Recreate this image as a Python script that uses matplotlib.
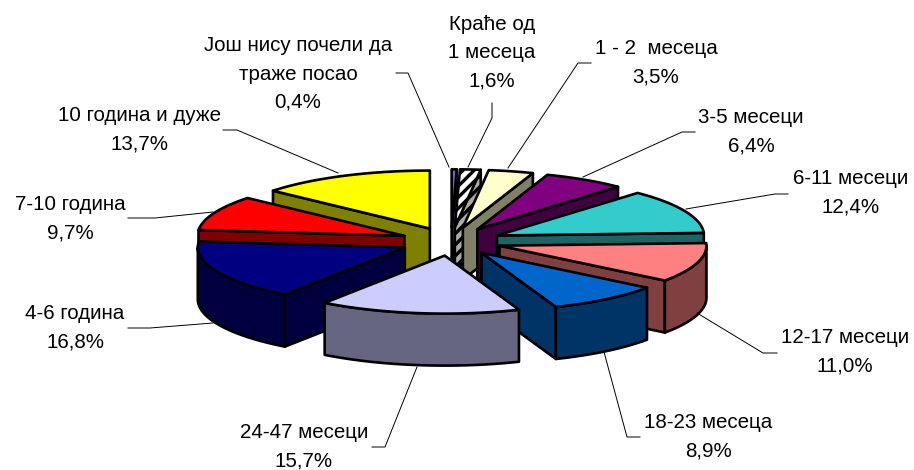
import numpy as np
from matplotlib import pyplot as plt
from matplotlib.patches import Polygon

plt.rcParams["font.family"] = ["Liberation Sans", "DejaVu Sans"]
plt.rcParams["hatch.linewidth"] = 2.4

# clockwise from 12 o'clock
names = [
    "Још нису почели да\nтраже посао",
    "Краће од\n1 месеца",
    "1 - 2  месеца",
    "3-5 месеци",
    "6-11 месеци",
    "12-17 месеци",
    "18-23 месеца",
    "24-47 месеци",
    "4-6 година",
    "7-10 година",
    "10 година и дуже",
]
shares = [0.4, 1.6, 3.5, 6.4, 12.4, 11.0, 8.9, 15.7, 16.8, 9.7, 13.7]
share_labels = ["0,4%", "1,6%", "3,5%", "6,4%", "12,4%", "11,0%", "8,9%", "15,7%", "16,8%", "9,7%", "13,7%"]

top_colors = ["#6666CC", "#FFFFFF", "#FFFFCC", "#800080", "#33CCCC", "#FF8080",
              "#0066CC", "#CCCCFF", "#000080", "#FF0000", "#FFFF00"]
side_colors = ["#333366", "#AAAAAA", "#808066", "#400040", "#1A6666", "#804040",
               "#003366", "#666680", "#000040", "#800000", "#808000"]

# label centre and leader polyline, in pixels
label_xy = [(298, 74), (492, 53), (656, 63), (751, 132), (851, 193), (845, 352),
            (708, 437), (304, 447), (75, 328), (70, 219), (140, 130)]
leaders = [
    [(396, 73), (408, 73), (449, 167)],
    [(492, 103), (492, 118), (468, 167)],
    [(591, 63), (578, 63), (508, 168)],
    [(695, 132), (682, 132), (583, 177)],
    [(788, 194), (775, 194), (686, 209)],
    [(777, 353), (763, 353), (697, 313)],
    [(640, 437), (627, 437), (604, 352)],
    [(372, 447), (385, 447), (417, 367)],
    [(128, 328), (150, 328), (213, 323)],
    [(128, 218), (155, 218), (213, 212)],
    [(223, 130), (237, 130), (338, 173)],
]

cx, cy = 451, 241.5
rx, ry = 207, 58
depth = 52
explode = 0.245

fig = plt.figure(figsize=(9.14, 4.70), dpi=100)
ax = fig.add_axes([0, 0, 1, 1])
ax.set_xlim(0, 914)
ax.set_ylim(470, 0)
ax.axis("off")

edges = np.cumsum([0] + shares) / sum(shares) * 2 * np.pi
mids = (edges[:-1] + edges[1:]) / 2


def wall(pts, color, hatched):
    poly = np.vstack([pts, pts[::-1] + [0, depth]])
    ax.add_patch(Polygon(poly, facecolor=color, edgecolor="black", lw=1.9, joinstyle="round",
                         hatch="///" if hatched else None))


for i in sorted(range(len(shares)), key=lambda k: -np.cos(mids[k])):
    hatched = i == 1
    ox = cx + explode * rx * np.sin(mids[i])
    oy = cy - explode * ry * np.cos(mids[i])
    t = np.linspace(edges[i], edges[i + 1], 60)
    arc = np.column_stack([ox + rx * np.sin(t), oy - ry * np.cos(t)])
    apex = np.array([[ox, oy]])

    # only the faces turned towards the viewer
    for pts in (np.vstack([apex, arc[:1]]), np.vstack([arc[-1:], apex])):
        if pts[1, 0] < pts[0, 0]:
            wall(pts, side_colors[i], hatched)
    front = np.cos(t) < 0
    if front.any():
        wall(arc[front], side_colors[i], hatched)

    ax.add_patch(Polygon(np.vstack([apex, arc]), facecolor=top_colors[i], edgecolor="black",
                         lw=1.9, joinstyle="round", hatch="///" if hatched else None))

for name, share, (x, y), line in zip(names, share_labels, label_xy, leaders):
    ax.plot(*zip(*line), color="black", lw=0.7, zorder=1)
    ax.text(x, y, name + "\n" + share, ha="center", va="center", fontsize=14.8,
            linespacing=1.62, color="black")

fig.savefig("out.png", dpi=100)
